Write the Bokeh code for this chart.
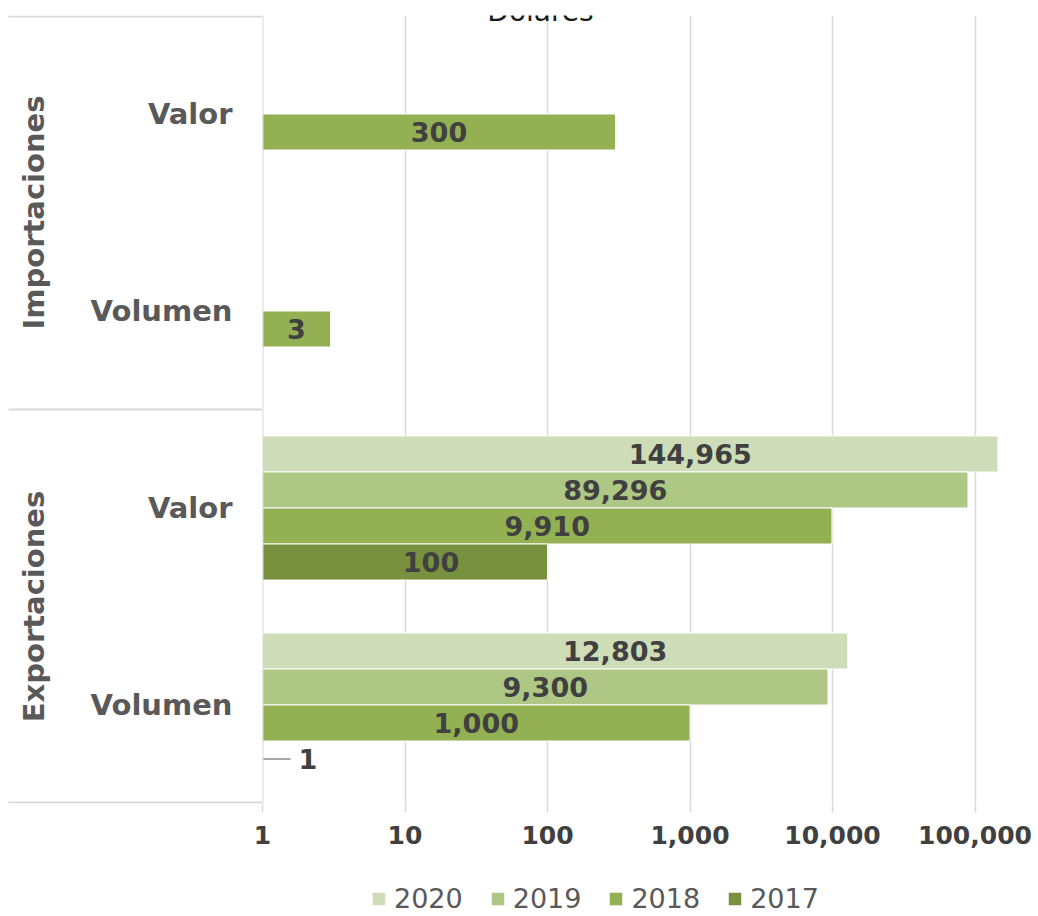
import math
from bokeh.plotting import figure
from bokeh.models import (FactorRange, Range1d, ColumnDataSource, FixedTicker,
                          NumeralTickFormatter, Legend, LegendItem, Span, Label)
from bokeh.layouts import row, column
from bokeh.core.properties import value
from bokeh.embed import file_html
from bokeh.resources import INLINE

# ---------------- data ----------------
title_text = "Dólares"
groups = ["Importaciones", "Exportaciones"]
subgroups = ["Valor", "Volumen"]
years = ["2020", "2019", "2018", "2017"]

importaciones_valor = [None, None, 300, None]
importaciones_volumen = [None, None, 3, None]
exportaciones_valor = [144965, 89296, 9910, 100]
exportaciones_volumen = [12803, 9300, 1000, 1]

x_ticks = [1, 10, 100, 1000, 10000, 100000]

series = {
    ("Importaciones", "Valor"): importaciones_valor,
    ("Importaciones", "Volumen"): importaciones_volumen,
    ("Exportaciones", "Valor"): exportaciones_valor,
    ("Exportaciones", "Volumen"): exportaciones_volumen,
}

# ---------------- style ----------------
colors = {"2020": "#CEDCB8", "2019": "#AEC785", "2018": "#93B053", "2017": "#78913F"}
label_dx = {"2020": 60, "2019": 0, "2018": 0, "2017": 26}
FONT_NAME = "DejaVu Sans"
FONT = value(FONT_NAME)
GRID = "#D9D9D9"
GAP = 1.47
LEFT_PAD = 20
TOP = 15
FRAME_H = 788
BOTTOM = 66
H = TOP + FRAME_H + BOTTOM
LEGEND_H = 45

top_to_bottom = [(g, s, y) for g in groups for s in subgroups for y in years]
y_range = FactorRange(factors=list(reversed(top_to_bottom)), factor_padding=0,
                      subgroup_padding=GAP, group_padding=GAP,
                      range_padding=GAP / 2, range_padding_units="absolute")

p = figure(x_axis_type="log", x_range=Range1d(1, 279000), y_range=y_range,
           width=776 + LEFT_PAD, height=H, min_border_top=TOP,
           min_border_left=LEFT_PAD, min_border_right=0, min_border_bottom=BOTTOM,
           output_backend="svg", toolbar_location=None)
p.margin = (0, 0, 0, -LEFT_PAD)
p.border_fill_alpha = 0
p.outline_line_color = None
p.yaxis.visible = False
p.ygrid.grid_line_color = None
p.xgrid.grid_line_color = GRID
p.xgrid.grid_line_width = 1.5
p.xaxis.ticker = FixedTicker(ticks=x_ticks)
p.xaxis.formatter = NumeralTickFormatter(format="0,0")
p.xaxis.axis_line_color = None
p.xaxis.major_tick_line_color = GRID
p.xaxis.major_tick_line_width = 1.5
p.xaxis.major_tick_out = 9
p.xaxis.major_tick_in = 0
p.xaxis.minor_tick_line_color = None
p.xaxis.major_label_standoff = 13
p.xaxis.major_label_text_font = FONT_NAME
p.xaxis.major_label_text_font_style = "bold"
p.xaxis.major_label_text_font_size = "25px"
p.xaxis.major_label_text_color = "#404040"

for yi, yr in enumerate(years):
    ys, vals = [], []
    for g in groups:
        for s in subgroups:
            v = series[(g, s)][yi]
            if v is None:
                continue
            ys.append((g, s, yr))
            vals.append(v)
    src = ColumnDataSource(dict(y=ys, v=vals))
    p.hbar(y="y", left=1, right="v", height=1, source=src,
           fill_color=colors[yr], line_color="white", line_width=1)

    inside = [(y, v) for y, v in zip(ys, vals) if v >= 2]
    outside = [(y, v) for y, v in zip(ys, vals) if v < 2]
    if inside:
        isrc = ColumnDataSource(dict(y=[a for a, _ in inside],
                                     x=[math.sqrt(b) for _, b in inside],
                                     t=[f"{b:,}" for _, b in inside]))
        p.text(x="x", y="y", text="t", source=isrc, x_offset=label_dx[yr],
               text_align="center", text_baseline="middle", text_font=FONT,
               text_font_style="bold", text_font_size="27px", text_color="#404040")
    if outside:
        osrc = ColumnDataSource(dict(y=[a for a, _ in outside],
                                     x=[b for _, b in outside],
                                     t=[f"{b:,}" for _, b in outside]))
        p.ray(x="x", y="y", source=osrc, length=28, length_units="screen", angle=0,
              line_color="#A6A6A6", line_width=2)
        p.text(x="x", y="y", text="t", source=osrc, x_offset=36,
               text_align="left", text_baseline="middle", text_font=FONT,
               text_font_style="bold", text_font_size="27px", text_color="#404040")

p.add_layout(Span(location=1, dimension="height", line_color=GRID, line_width=2))

p.add_layout(Label(x=278, y=792, x_units="screen", y_units="screen", text=title_text,
                   text_align="center", text_baseline="alphabetic", text_font=FONT_NAME,
                   text_font_size="28px", text_color="#1A1A1A"))

# ---------------- left category panel ----------------
lp = figure(x_range=Range1d(0, 262), y_range=y_range, width=262, height=H,
            min_border_top=TOP, min_border_left=0, min_border_right=0,
            min_border_bottom=BOTTOM, output_backend="svg", toolbar_location=None)
lp.axis.visible = False
lp.grid.visible = False
lp.outline_line_color = None

sub_pos = [(g, s) for g in groups for s in subgroups]
lp.text(x=232, y=sub_pos, text=[s for _, s in sub_pos], text_align="right",
        text_baseline="middle", text_font=FONT, text_font_style="bold",
        text_font_size="29px", text_color="#595959")
lp.text(x=33, y=groups, text=groups, angle=math.pi / 2, text_align="center",
        text_baseline="middle", text_font=FONT, text_font_style="bold",
        text_font_size="29px", text_color="#595959")

last_imp = [f for f in top_to_bottom if f[0] == groups[0]][-1]
sep_y = [top_to_bottom[0] + (0.5 + GAP / 2 - 0.03,),
         last_imp + (-0.5 - GAP / 2,),
         top_to_bottom[-1] + (-0.5 - GAP / 2 + 0.03,)]
lp.segment(x0=8, x1=262, y0=sep_y, y1=sep_y, line_color=GRID, line_width=2)

# ---------------- legend strip ----------------
lf = figure(x_range=Range1d(0, 1), y_range=Range1d(0, 1), width=1038, height=LEGEND_H,
            min_border_top=0, min_border_left=0, min_border_right=0, min_border_bottom=0,
            output_backend="svg", toolbar_location=None)
lf.axis.visible = False
lf.grid.visible = False
lf.outline_line_color = None
legend_items = []
for yr in years:
    # legend swatch carrier, kept outside the strip's visible range
    r = lf.hbar(y=[-10], left=[0], right=[1], height=1, fill_color=colors[yr],
                line_color="white", line_width=1)
    legend_items.append(LegendItem(label=yr, renderers=[r]))
legend = Legend(items=legend_items, orientation="horizontal", location=(370, 0),
                padding=0, margin=0, spacing=26, label_standoff=7,
                glyph_width=17, glyph_height=17,
                label_text_font=FONT_NAME, label_text_font_size="27px",
                label_text_color="#595959", border_line_color=None,
                background_fill_alpha=0)
lf.add_layout(legend)

layout = column(row(lp, p), lf)
open("out.html", "w").write(file_html(layout, INLINE))
